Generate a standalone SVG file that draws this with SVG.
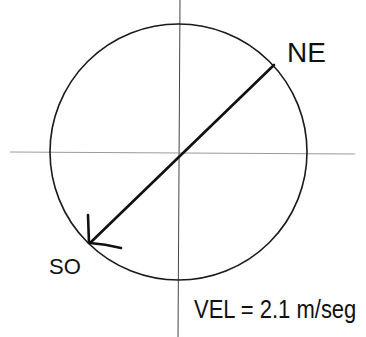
<svg xmlns="http://www.w3.org/2000/svg" width="366" height="337" viewBox="0 0 366 337">
<style>
.axis{stroke:#9a9a9a;stroke-width:1;fill:none}
.ring{stroke:#1a1a1a;stroke-width:1.6;fill:none}
.vec{stroke:#111;stroke-width:2.6;fill:none;stroke-linecap:round}
.lbl{font-family:"Liberation Sans",Arial,sans-serif;fill:#111}
</style>
<rect width="366" height="337" fill="#fff"/>
<g id="axes">
<line class="axis" x1="180" y1="0" x2="178" y2="337" style="stroke:#444"/>
<line class="axis" x1="10" y1="152" x2="355" y2="154"/>
</g>
<g id="circle">
<ellipse class="ring" cx="178.5" cy="152" rx="128.5" ry="128"/>
</g>
<g id="connectors">
<line class="vec" x1="274" y1="65" x2="90" y2="243"/>
<path class="vec" d="M88 215 L89 243 M90 243 Q105 244 121 248"/>
</g>
<g id="NE">
<text class="lbl" x="287" y="62" font-size="28">NE</text>
</g>
<g id="SO">
<text class="lbl" x="49" y="274" font-size="22">SO</text>
</g>
<g id="vel">
<text class="lbl" transform="translate(194,318) scale(1,1.2)" x="0" y="0" font-size="22">VEL = 2.1 m/seg</text>
</g>
</svg>
